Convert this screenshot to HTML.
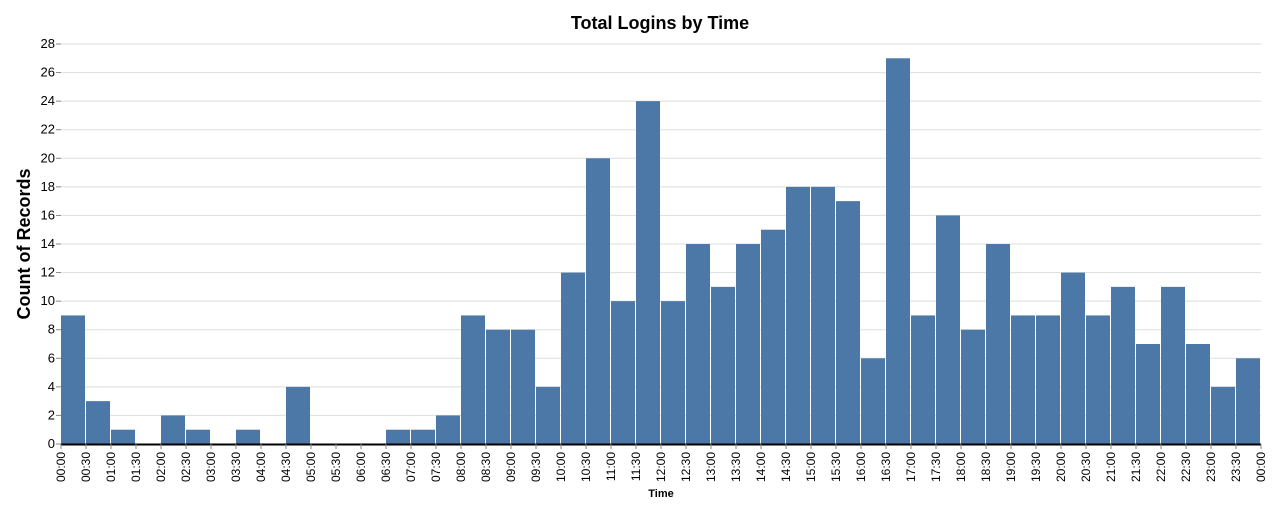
<!DOCTYPE html>
<html><head><meta charset="utf-8"><style>
body{margin:0;background:#fff;}
svg text{font-family:"Liberation Sans",sans-serif;}
</style></head><body>
<svg id="chart" width="1282" height="514" xmlns="http://www.w3.org/2000/svg">
<text x="660" y="29" text-anchor="middle" font-size="18" font-weight="bold" fill="#000">Total Logins by Time</text>
<g id="grid"></g><g id="bars"></g><g id="axes"></g>
<text transform="translate(30,244) rotate(-90)" text-anchor="middle" font-size="18" font-weight="bold" fill="#000">Count of Records</text>
<text x="661" y="497" text-anchor="middle" font-size="11" font-weight="bold" fill="#000">Time</text>
</svg>
<script>
const categories=["00:00","00:30","01:00","01:30","02:00","02:30","03:00","03:30","04:00","04:30","05:00","05:30","06:00","06:30","07:00","07:30","08:00","08:30","09:00","09:30","10:00","10:30","11:00","11:30","12:00","12:30","13:00","13:30","14:00","14:30","15:00","15:30","16:00","16:30","17:00","17:30","18:00","18:30","19:00","19:30","20:00","20:30","21:00","21:30","22:00","22:30","23:00","23:30"];
const values=[9,3,1,0,2,1,0,1,0,4,0,0,0,1,1,2,9,8,8,4,12,20,10,24,10,14,11,14,15,18,18,17,6,27,9,16,8,14,9,9,12,9,11,7,11,7,4,6];
const yTicks=[0,2,4,6,8,10,12,14,16,18,20,22,24,26,28];
const x0=61,x1=1261,y0=444,y1=44,yMax=28;
const bw=(x1-x0)/categories.length;
const xs=i=>x0+i*bw;
const ys=v=>y0-(v/yMax)*(y0-y1);
const NS="http://www.w3.org/2000/svg";
function mk(t,a,p){const e=document.createElementNS(NS,t);for(const k in a)e.setAttribute(k,a[k]);p.appendChild(e);return e;}
const grid=document.getElementById('grid'),bars=document.getElementById('bars'),axes=document.getElementById('axes');
yTicks.forEach(t=>{
  const y=ys(t);
  const g=mk('line',{x1:x0,x2:x1,y1:y,y2:y,stroke:'#ddd','stroke-width':1},grid);
  
  
  mk('line',{x1:x0-5,x2:x0,y1:y,y2:y,stroke:'#888'},axes);
  const tx=mk('text',{x:x0-6,y:y+4,'text-anchor':'end','font-size':13,fill:'#000'},axes);
  tx.textContent=t;
  
  
});
values.forEach((v,i)=>{
  const r=mk('rect',{x:xs(i),y:ys(v),width:bw-1,height:y0-ys(v),fill:'#4c78a8'},bars);
  
  
});
const ax=mk('line',{x1:x0,x2:x1,y1:y0+0.5,y2:y0+0.5,stroke:'#000','stroke-width':2},axes);


categories.concat(["00:00"]).forEach((c,i)=>{
  const x=xs(i);
  mk('line',{x1:x,x2:x,y1:y0,y2:y0+5,stroke:'#888'},axes);
  const tx=mk('text',{transform:`translate(${x+4},${y0+8}) rotate(-90)`,'text-anchor':'end','font-size':12,fill:'#000'},axes);
  tx.textContent=c;
  
  
});
</script>
</body></html>
